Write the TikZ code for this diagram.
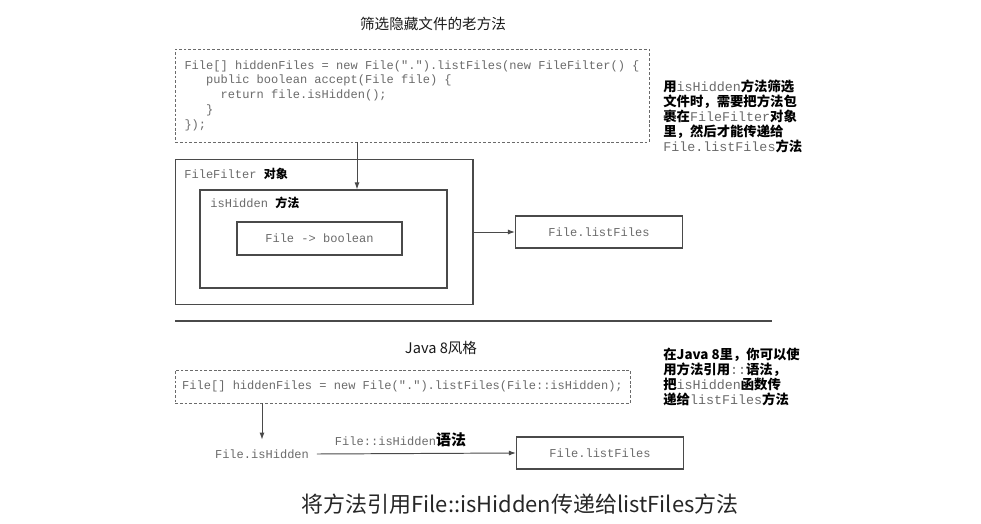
\documentclass[tikz,border=0pt]{standalone}
\usepackage{fontspec}
\usepackage{tikz}
\usetikzlibrary{arrows.meta,positioning,calc}
\usepackage{xcolor}
\newfontfamily\cjk{Noto Sans CJK SC}
\newfontfamily\codefont{Liberation Mono}[Ligatures=TeXOff]
\definecolor{codegray}{HTML}{6A6A6A}
\definecolor{boxgray}{HTML}{4A4A4A}
\newcommand{\zh}[1]{{\cjk\bfseries #1}}
\newcommand{\cd}[1]{{\codefont\mdseries\color{codegray}#1}}

\begin{document}
\begin{tikzpicture}[x=0.02cm, y=-0.02cm,
    font=\codefont\fontsize{6.85}{8.4}\selectfont,
    codebox/.style={draw=codegray, dash pattern=on 1.6pt off 1.1pt, line width=0.5pt, align=left, text=codegray},
    plainbox/.style={draw=boxgray, line width=0.6pt, inner sep=0pt},
    lfbox/.style={plainbox, minimum width=3.34cm, minimum height=0.64cm, text=codegray},
    ca/.style={-{Latex[length=4pt,width=2.8pt]}, line width=0.55pt, draw=boxgray},
    note/.style={anchor=north west, align=left, inner sep=0pt, font=\cjk\bfseries\fontsize{7.6}{8.5}\selectfont},
    ttl/.style={inner sep=0pt, text=black!90, font=\cjk\fontsize{8.3}{10}\selectfont}
  ]
  \useasboundingbox (0,0) rectangle (981,524);

  % old way: anonymous FileFilter
  \node[ttl] (title1) at (433,24) {筛选隐藏文件的老方法};
  \node[codebox, minimum width=9.48cm, minimum height=1.86cm] (oldcode) at (412,95.5)
    {File[] hiddenFiles = new File(".").listFiles(new FileFilter() \{\\
     \phantom{000}public boolean accept(File file) \{\\
     \phantom{00000}return file.isHidden();\\
     \phantom{000}\}\\
     \});};
  \node[note] (note1) at (663,80)
    {用\cd{isHidden}方法筛选\\
     文件时，需要把方法包\\
     裹在\cd{FileFilter}对象\\
     里，然后才能传递给\\
     \cd{File.listFiles}方法};

  \node[plainbox, minimum width=5.96cm, minimum height=2.9cm] (fobj) at (324,232) {};
  \node[anchor=base west, inner sep=0pt] (fobjlbl) at (184,178) {\cd{FileFilter} \zh{对象}};
  \node[plainbox, minimum width=4.94cm, minimum height=1.96cm] (hidm) at (323.5,239) {};
  \node[anchor=base west, inner sep=0pt] (hidmlbl) at (210,207) {\cd{isHidden} \zh{方法}};
  \node[plainbox, minimum width=3.3cm, minimum height=0.66cm, text=codegray] (fnb) at (319.5,238.5) {File -> boolean};
  \node[lfbox] (lf1) at (599,232) {File.listFiles};

  \draw[ca] ($(oldcode.south)+(-55,0)$) coordinate (tap) -- (tap |- hidm.north);
  \draw[ca] (fobj.east) -- (lf1.west);

  \draw[draw=boxgray, line width=0.6pt] (175,321) -- (772,321);

  % Java 8 style
  \node[ttl] (title2) at (441,348) {Java 8风格};
  \node[codebox, minimum width=9.1cm, minimum height=0.66cm] (newcode) at (402.5,386.5)
    {File[] hiddenFiles = new File(".").listFiles(File::isHidden);};
  \node[note] (note2) at (663,348)
    {在Java 8里，你可以使\\
     用方法引用\cd{::}语法，\\
     把\cd{isHidden}函数传\\
     递给\cd{listFiles}方法};

  \node[inner xsep=0.15cm, inner ysep=0pt, minimum height=0.56cm, text=codegray] (hid) at (262,454) {File.isHidden};
  \node[lfbox] (lf2) at (600,453) {File.listFiles};

  \draw[ca] (newcode.south -| hid.north) -- (hid.north);
  \draw[ca] (hid.east) -- (lf2.west)
    node[pos=0.42, above=0.12cm, inner sep=0pt] {\cd{File::isHidden}{\cjk\bfseries\fontsize{8.5}{10}\selectfont 语法}};

  \node[inner sep=0pt, text=black!85, font=\cjk\fontsize{12.5}{15}\selectfont] (caption) at (520,504)
    {将方法引用File::isHidden传递给listFiles方法};
\end{tikzpicture}
\end{document}
